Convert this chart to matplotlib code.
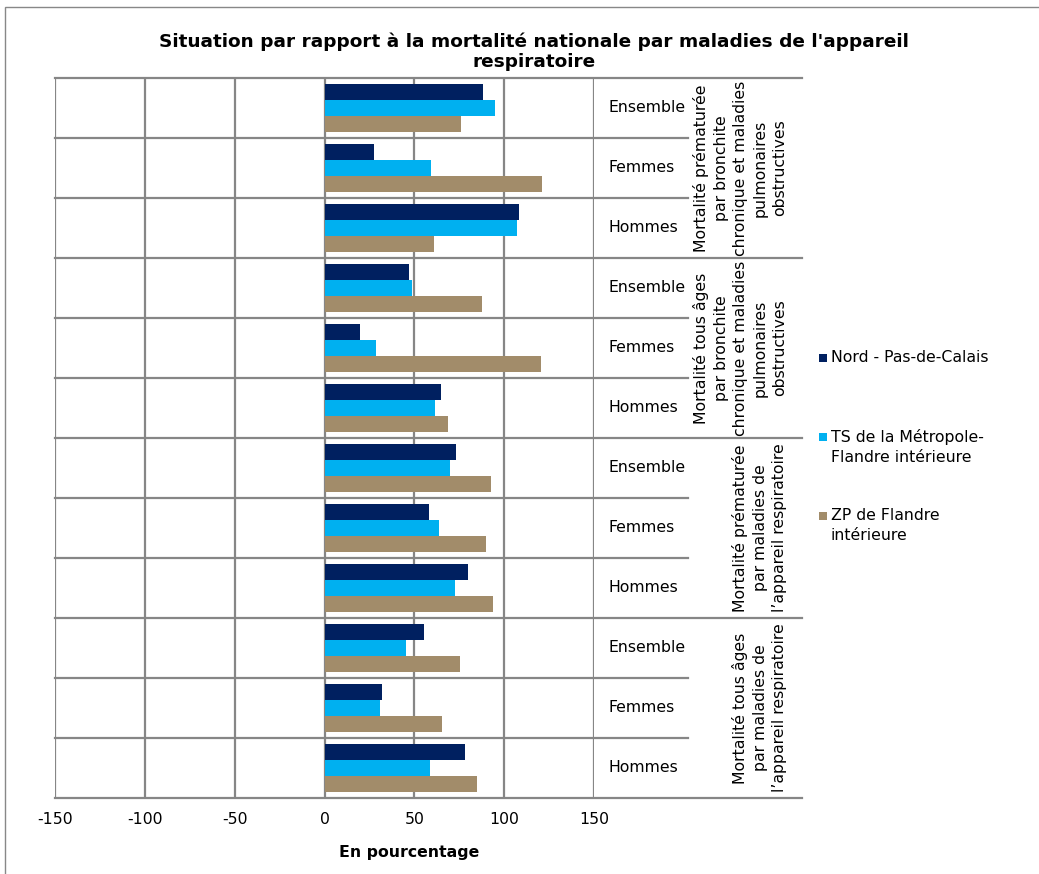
import matplotlib
matplotlib.use("Agg")
import matplotlib.pyplot as plt
from matplotlib.patches import Rectangle
import matplotlib.transforms as mtransforms
import numpy as np

# ---------------- data ----------------
groups = [
    "Mortalité prématurée\npar bronchite\nchronique et maladies\npulmonaires\nobstructives",
    "Mortalité tous âges\npar bronchite\nchronique et maladies\npulmonaires\nobstructives",
    "Mortalité prématurée\npar maladies de\nl’appareil respiratoire",
    "Mortalité tous âges\npar maladies de\nl’appareil respiratoire",
]
subcats = ["Ensemble", "Femmes", "Hommes"]
series_names = ["Nord - Pas-de-Calais", "TS de la Métropole-\nFlandre intérieure", "ZP de Flandre\nintérieure"]
nord = [88.0, 27.7, 108.2, 47.3, 19.9, 64.8, 73.2, 57.9, 79.7, 55.3, 31.8, 78.2]
ts = [94.7, 59.0, 107.0, 48.8, 28.5, 61.6, 70.0, 63.5, 72.6, 45.2, 31.1, 58.7]
zp = [75.8, 121.2, 60.9, 87.9, 120.3, 68.5, 92.9, 89.9, 94.0, 75.6, 65.4, 84.7]
xticks = [-150, -100, -50, 0, 50, 100, 150]
title = "Situation par rapport à la mortalité nationale par maladies de l'appareil\nrespiratoire"
xlabel = "En pourcentage"

colors = ["#002060", "#00B0F0", "#A28C6A"]
grid_col = "#868686"

W, H = 1039, 874
fig = plt.figure(figsize=(W / 100, H / 100), dpi=100)
plt.rcParams['font.family'] = ['DejaVu Sans']
FS = 11.3


def fx(px):
    return px / W


def fy(py):
    return 1 - py / H


# chart border
fig.add_artist(Rectangle((fx(5), fy(900)), fx(1100), (900 - 7) / H,
                         transform=fig.transFigure, fill=False, edgecolor="#888888", lw=1.0))

ax_l, ax_r, ax_t, ax_b = 55, 594, 78, 798
ax = fig.add_axes([fx(ax_l), fy(ax_b), fx(ax_r - ax_l), (ax_b - ax_t) / H])

n = len(nord)
ypos = np.arange(n) + 0.5
bh = 0.272
for vals, off, c in zip([nord, ts, zp], [-bh, 0, bh], colors):
    ax.barh(ypos + off, vals, height=bh, color=c, edgecolor="none", zorder=3)

ax.set_xlim(-150, 150)
ax.set_ylim(n, 0)
ax.set_xticks(xticks)
ax.set_xticklabels([str(t) for t in xticks], fontsize=FS)
ax.tick_params(axis="x", length=0, pad=10)
ax.set_yticks([])
for s in ax.spines.values():
    s.set_visible(False)
for t in xticks:
    ax.axvline(t, color=grid_col, lw=1.6, zorder=2)

ax.set_xlabel(xlabel, fontsize=FS, fontweight="bold")
ax.xaxis.set_label_coords((409 - ax_l) / (ax_r - ax_l), -(845 - ax_b) / (ax_b - ax_t))

trans = mtransforms.blended_transform_factory(ax.transAxes, ax.transData)
inner_end = (688 - ax_l) / (ax_r - ax_l)
outer_end = (802 - ax_l) / (ax_r - ax_l)
for i in range(n + 1):
    xe = outer_end if i % 3 == 0 else inner_end
    ax.plot([0, xe], [i, i], color=grid_col, lw=1.6, transform=trans, clip_on=False, zorder=2)

# category labels
lab_x = (609 - ax_l) / (ax_r - ax_l)
for i in range(n):
    ax.text(lab_x, i + 0.5, subcats[i % 3], transform=trans, ha="left", va="center", fontsize=FS)

grp_x = (787 - ax_l) / (ax_r - ax_l)
for g, name in enumerate(groups):
    ax.text(grp_x, g * 3 + 1.5, name, transform=trans, rotation=90, ha="right", va="center",
            multialignment="center", fontsize=FS, linespacing=1.37)

# title
fig.text(fx(534), fy(52), title, ha="center", va="center", fontsize=13.3,
         fontweight="bold", linespacing=1.15)

# legend
leg_items = [(358, series_names[0]), (437, series_names[1]), (516, series_names[2])]
for (yc, name), c in zip(leg_items, colors):
    fig.add_artist(Rectangle((fx(819), fy(yc + 4)), fx(8), 8 / H, transform=fig.transFigure,
                             facecolor=c, edgecolor="none"))
    for k, line in enumerate(name.split("\n")):
        fig.text(fx(831), fy(yc + 20 * k), line, ha="left", va="center", fontsize=FS)

fig.savefig("out.png", dpi=100)
